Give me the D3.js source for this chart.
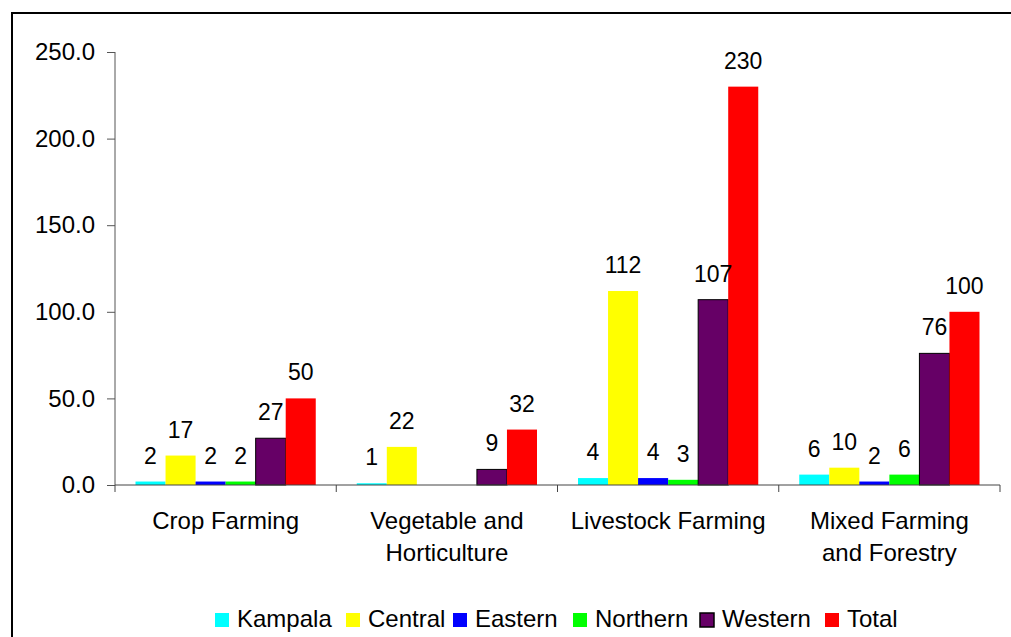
<!DOCTYPE html>
<html lang="en">
<head>
    <meta charset="UTF-8">
    <title>Farming activities by region</title>
    <script src="https://d3js.org/d3.v7.min.js"></script>
    <style>
        body {
            margin: 0;
            background: #fff;
            font-family: 'Liberation Sans', Arial, sans-serif;
        }
        text { fill: #000; }
    </style>
</head>
<body>
    <svg id="chart" width="1011" height="637"></svg>

    <script>
        const categories = [["Crop Farming"], ["Vegetable and", "Horticulture"], ["Livestock Farming"], ["Mixed Farming", "and Forestry"]];
        const regions = ["Kampala", "Central", "Eastern", "Northern", "Western", "Total"];
        const regionColors = ["#00ffff", "#ffff00", "#0000ff", "#00ff00", "#660066", "#ff0000"];

        // one array per region, one value per category (null = nothing drawn)
        const kampala = [2, 1, 4, 6];
        const central = [17, 22, 112, 10];
        const eastern = [2, null, 4, 2];
        const northern = [2, null, 3, 6];
        const western = [27, 9, 107, 76];
        const total = [50, 32, 230, 100];
        const seriesValues = [kampala, central, eastern, northern, western, total];

        const yTicks = [0, 50, 100, 150, 200, 250];

        const svg = d3.select("#chart");

        // frame round the whole chart (runs off the right and bottom edge)
        svg.append("rect")
            .attr("x", 12).attr("y", 13)
            .attr("width", 1100).attr("height", 700)
            .attr("fill", "none")
            .attr("stroke", "#000")
            .attr("stroke-width", 2);

        const x0 = 115, x1 = 1000, yTop = 52, yBase = 485;

        const x = d3.scaleBand()
            .domain(d3.range(categories.length))
            .range([x0, x1]);

        const xInner = d3.scaleBand()
            .domain(regions)
            .range([20.5, x.bandwidth() - 20.5]);

        const y = d3.scaleLinear()
            .domain([0, 250])
            .range([yBase, yTop]);

        // y axis
        const yAxis = svg.append("g")
            .attr("transform", `translate(${x0},0)`)
            .call(d3.axisLeft(y).tickValues(yTicks).tickSize(8).tickPadding(12)
                .tickFormat(d3.format(".1f")));
        yAxis.select(".domain").attr("stroke", "#555").attr("d", `M0,${yTop}V${yBase}`);
        yAxis.selectAll(".tick line").attr("stroke", "#555");
        yAxis.selectAll(".tick text")
            .attr("font-family", "'Liberation Sans', Arial, sans-serif")
            .attr("font-size", 24)
            .attr("fill", "#000");

        // bars
        const groups = svg.append("g")
            .selectAll("g")
            .data(categories)
            .join("g")
            .attr("transform", (d, i) => `translate(${x(i)},0)`);

        groups.each(function (cat, ci) {
            const g = d3.select(this);
            const rows = regions.map((r, ri) => ({ region: r, ri: ri, value: seriesValues[ri][ci] }))
                .filter(d => d.value !== null);

            g.selectAll("rect")
                .data(rows)
                .join("rect")
                .attr("x", d => xInner(d.region))
                .attr("y", d => y(d.value))
                .attr("width", xInner.bandwidth())
                .attr("height", d => yBase - y(d.value))
                .attr("fill", d => regionColors[d.ri])
                .attr("stroke", d => d.region === "Western" ? "#000" : "none")
                .attr("stroke-width", 1);

            g.selectAll("text.val")
                .data(rows)
                .join("text")
                .attr("class", "val")
                .attr("x", d => xInner(d.region) + xInner.bandwidth() / 2)
                .attr("y", d => y(d.value) - 18)
                .attr("text-anchor", "middle")
                .attr("font-size", 23)
                .text(d => d.value);
        });

        // x axis
        svg.append("line")
            .attr("x1", x0).attr("x2", x1)
            .attr("y1", yBase).attr("y2", yBase)
            .attr("stroke", "#444");
        svg.append("g")
            .selectAll("line")
            .data(d3.range(categories.length + 1))
            .join("line")
            .attr("x1", i => i < categories.length ? x(i) : x1)
            .attr("x2", i => i < categories.length ? x(i) : x1)
            .attr("y1", yBase).attr("y2", yBase + 7)
            .attr("stroke", "#444");

        // category labels
        svg.append("g")
            .selectAll("text")
            .data(categories)
            .join("text")
            .attr("x", (d, i) => x(i) + x.bandwidth() / 2)
            .attr("y", 529)
            .attr("text-anchor", "middle")
            .attr("font-size", 24)
            .selectAll("tspan")
            .data(d => d)
            .join("tspan")
            .attr("x", function () { return this.parentNode.getAttribute("x"); })
            .attr("dy", (d, i) => i === 0 ? 0 : 32)
            .text(d => d);

        // legend
        const legendX = [215, 346, 453, 573, 700, 825];
        const legend = svg.append("g")
            .selectAll("g")
            .data(regions)
            .join("g")
            .attr("transform", (d, i) => `translate(${legendX[i]},613)`);
        legend.append("rect")
            .attr("width", 14).attr("height", 14)
            .attr("fill", (d, i) => regionColors[i])
            .attr("stroke", d => d === "Western" ? "#000" : "none")
            .attr("stroke-width", 1.5);
        legend.append("text")
            .attr("x", 22)
            .attr("y", 14)
            .attr("font-size", 24)
            .text(d => d);
    </script>
</body>
</html>
